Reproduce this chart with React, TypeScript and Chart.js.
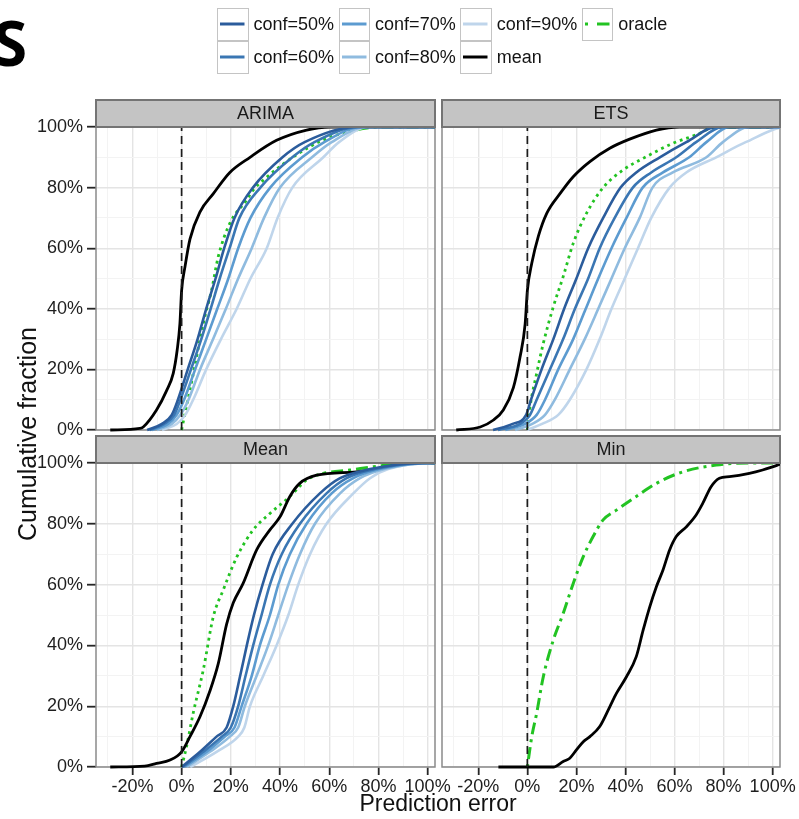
import React, { useEffect, useRef } from 'react';
import { Chart, registerables } from 'chart.js';

Chart.register(...registerables);

const FONT = "'Liberation Sans', Arial, Helvetica, sans-serif";

// Shared axis limits (prediction error in %, cumulative fraction in %)
const X_MIN = -34.8;
const X_MAX = 103;
const Y_MIN = 0;
const Y_MAX = 100;
const TICK_STEP = 10;
const LABEL_STEP = 20;

const CONF_NAMES = ['conf=50%', 'conf=60%', 'conf=70%', 'conf=80%', 'conf=90%'];
const CONF_COLORS = ['#2b5c9c', '#3a76b3', '#5c9bd0', '#8fbbdf', '#bfd5eb'];
const MEAN_COLOR = '#000000';
const ORACLE_COLOR = '#22c322';
const DOTTED = [2.8, 4];
const DOTDASH = [3, 5, 12, 5];

// ---------- ARIMA ----------
const ARIMA_LEVELS = [0, 2, 5, 10, 20, 30, 40, 50, 60, 70, 80, 90, 95, 100, 100];
const ARIMA_CONF50 = [-14, -8, -4, -1.5, 2.5, 6.5, 10, 13.8, 17.3, 21.5, 29, 41, 50, 71, 105];
const ARIMA_CONF60 = [-13, -7, -3, -0.5, 3.8, 8, 11.8, 15.5, 19.5, 23.5, 32, 45, 54, 72, 105];
const ARIMA_CONF70 = [-12, -5.5, -2, 1, 5.5, 10, 14.5, 19, 23, 28, 36, 49, 58, 73, 105];
const ARIMA_CONF80 = [-10, -4, -0.5, 2.8, 7.5, 12.8, 18, 23, 28.5, 33.5, 40, 53, 61, 75, 105];
const ARIMA_CONF90 = [-8, -2, 1.5, 4.7, 10, 16, 22.4, 28, 34.6, 39, 45, 57.6, 64, 76, 105];
const ARIMA_MEAN_X = [-29, -17, -15.6, -10.2, -6.1, -3.4, -1.8, -0.7, 0, 1.4, 3.4, 7.5, 12.9, 19.6, 27.8, 38.6, 50.8, 60.3, 105];
const ARIMA_MEAN_Y = [0, 0.5, 1, 6.6, 13, 18.7, 26.4, 35, 46, 54, 63, 72, 78, 85, 90, 95.6, 99, 100, 100];
const ARIMA_ORACLE_X = [0, 1.5, 3.4, 6.1, 8.8, 12.2, 14.9, 19.6, 26.4, 29.1, 34, 40, 47, 57, 68, 82, 105];
const ARIMA_ORACLE_Y = [0, 6, 13.2, 24.2, 35.2, 46.2, 57.2, 68.2, 75.9, 79.2, 83, 87, 91, 95.5, 98.5, 100, 100];

// ---------- ETS ----------
const ETS_LEVELS = [0, 2, 5, 10, 20, 30, 40, 50, 60, 70, 80, 85, 90, 95, 100, 100];
const ETS_CONF50 = [-14, -6, -0.5, 1.5, 5.8, 10.6, 15, 20, 24.8, 30.9, 38, 44.4, 54, 64.8, 77, 105];
const ETS_CONF60 = [-12, -3, 1.1, 3.8, 9.2, 14.6, 19.4, 24.8, 29.5, 35.6, 43, 50.5, 60.7, 68.8, 79.7, 105];
const ETS_CONF70 = [-9, -1, 3.8, 7.2, 12.6, 18.7, 23.8, 28.9, 34.3, 40.4, 47, 55.3, 66, 73, 82.4, 105];
const ETS_CONF80 = [-5, 2, 7.2, 11.2, 17.3, 23.4, 28.9, 34.3, 39.7, 45.8, 51, 59.3, 73, 79.7, 90.5, 105];
const ETS_CONF90 = [0, 6, 12.6, 17.3, 24.1, 29.5, 34.3, 39.7, 45.1, 50.5, 58, 64.8, 77, 89, 106, 108];
const ETS_MEAN_X = [-29, -19.2, -13.8, -9.8, -5.7, -3, -0.9, 0, 1.8, 4.5, 7.9, 13.3, 18.7, 25.5, 33.6, 41.7, 52.6, 62, 105];
const ETS_MEAN_Y = [0, 1, 3.3, 6.6, 14, 24, 35, 46, 55, 64, 71.5, 78, 83.6, 88.6, 93, 96, 99, 100, 100];
const ETS_ORACLE_X = [0, 1.1, 3.8, 6.5, 10.6, 14.6, 18.7, 24.1, 30.9, 39, 48.5, 59.3, 68.8, 77, 105];
const ETS_ORACLE_Y = [0, 7.7, 18.7, 28.6, 40.7, 50.6, 61.6, 71.5, 80, 85.8, 90.2, 94.6, 97.4, 100, 100];

// ---------- Mean ----------
const MEAN_LEVELS = [0, 5, 10, 13, 20, 30, 40, 50, 60, 70, 80, 90, 95, 98, 100, 100];
const MEAN_CONF50 = [0, 7.5, 14.2, 18.3, 21, 23.8, 26.5, 29.4, 32.9, 37, 45, 56.2, 64.4, 76.6, 98, 105];
const MEAN_CONF60 = [0.5, 8.8, 16.3, 20, 23, 26, 29.1, 32.5, 35.9, 40.7, 48.1, 58.9, 67.1, 78.5, 99.5, 105];
const MEAN_CONF70 = [1, 10.2, 17.6, 21.5, 24.4, 28.5, 31.8, 35.9, 39.3, 44, 50.8, 61, 69.8, 80.5, 101, 105];
const MEAN_CONF80 = [2, 11.5, 19.6, 23, 25.7, 30.5, 35.2, 39.3, 43.4, 48.1, 54.2, 64.4, 72.5, 82.5, 102, 105];
const MEAN_CONF90 = [3.5, 14.2, 23, 25.5, 27.8, 33.2, 38.6, 43.4, 47.4, 52.2, 58.9, 69.8, 76.6, 84, 104, 106];
const MEAN_MEAN_X = [-29, -15, -10.2, -4.7, 0, 3.4, 7.5, 11.5, 14.9, 18.3, 21, 25, 30.5, 35.9, 40, 44, 48, 54.9, 71, 79.3, 87.4, 92.8, 105];
const MEAN_MEAN_Y = [0, 0.3, 1.2, 2.3, 5, 10, 16.6, 25, 34, 47, 54, 60.4, 71.4, 78, 82.3, 89, 93.3, 96, 97.1, 98, 99.3, 100, 100];
const MEAN_ORACLE_X = [0, 2, 4.7, 8.8, 12.9, 16.9, 22.4, 29.1, 35.9, 44, 50.8, 57.6, 68.4, 78, 91.5, 105];
const MEAN_ORACLE_Y = [0, 6.7, 17.7, 31.9, 49.5, 58.2, 69, 78, 83.4, 89, 94.4, 96.6, 97.7, 98.8, 100, 100];

// ---------- Min ----------
const MIN_MEAN_X = [-11.8, 10.6, 14.6, 17.3, 20, 22.8, 25.5, 29.5, 33.6, 36.3, 40.4, 44.4, 47.2, 49.9, 52.6, 55.3, 58, 60.7, 64.8, 68.8, 71.5, 74.9, 78.3, 82.4, 90.5, 95.9, 102, 105];
const MIN_MEAN_Y = [0, 0, 1.8, 2.9, 5.6, 8.3, 10, 13.3, 19.8, 24.2, 29.7, 36.3, 45, 52.7, 59.3, 64.8, 71.4, 75.8, 79, 82.9, 86.7, 92.2, 95, 95.5, 96.6, 97.7, 99.3, 100];
const MIN_ORACLE_X = [0, 1.8, 3.8, 6.5, 10.6, 14.6, 18.7, 22.8, 26.8, 30.9, 36.3, 44.4, 52.6, 63.4, 77, 90.5, 105];
const MIN_ORACLE_Y = [0, 10, 17.7, 29.7, 41.8, 50.5, 60.4, 69.2, 75.8, 81.3, 84.5, 89, 93.3, 97.1, 99.3, 100, 100];

// Zero-error reference line
const REF_X = [0, 0];
const REF_Y = [0, 100];

// ---------- layout (page pixels) ----------
const PAGE_W = 799;
const PAGE_H = 819;
const COLS = [
  { left: 96, right: 435 },
  { left: 442, right: 780 },
];
const ROWS = [
  { top: 127, bottom: 430 },
  { top: 463, bottom: 767 },
];
const STRIP_H = 27;
const Y_AXIS_W = 96;
const X_AXIS_H = 45;

type Curve = {
  label: string;
  xs: number[];
  ys: number[];
  color: string;
  width: number;
  kind: 'solid' | 'oracle' | 'oracleDotdash' | 'ref';
};

type Facet = { title: string; col: number; row: number; curves: Curve[] };

const confCurves = (levels: number[], series: number[][]): Curve[] =>
  series.map((xs, i) => ({
    label: CONF_NAMES[i],
    xs,
    ys: levels,
    color: CONF_COLORS[i],
    width: 2.6,
    kind: 'solid' as const,
  }));

const refCurve: Curve = { label: 'zero', xs: REF_X, ys: REF_Y, color: '#1c1c1c', width: 1.7, kind: 'ref' };

const FACETS: Facet[] = [
  {
    title: 'ARIMA',
    col: 0,
    row: 0,
    curves: [
      refCurve,
      ...confCurves(ARIMA_LEVELS, [ARIMA_CONF50, ARIMA_CONF60, ARIMA_CONF70, ARIMA_CONF80, ARIMA_CONF90]),
      { label: 'mean', xs: ARIMA_MEAN_X, ys: ARIMA_MEAN_Y, color: MEAN_COLOR, width: 2.8, kind: 'solid' },
      { label: 'oracle', xs: ARIMA_ORACLE_X, ys: ARIMA_ORACLE_Y, color: ORACLE_COLOR, width: 2.8, kind: 'oracle' },
    ],
  },
  {
    title: 'ETS',
    col: 1,
    row: 0,
    curves: [
      refCurve,
      ...confCurves(ETS_LEVELS, [ETS_CONF50, ETS_CONF60, ETS_CONF70, ETS_CONF80, ETS_CONF90]),
      { label: 'mean', xs: ETS_MEAN_X, ys: ETS_MEAN_Y, color: MEAN_COLOR, width: 2.8, kind: 'solid' },
      { label: 'oracle', xs: ETS_ORACLE_X, ys: ETS_ORACLE_Y, color: ORACLE_COLOR, width: 2.8, kind: 'oracle' },
    ],
  },
  {
    title: 'Mean',
    col: 0,
    row: 1,
    curves: [
      refCurve,
      ...confCurves(MEAN_LEVELS, [MEAN_CONF50, MEAN_CONF60, MEAN_CONF70, MEAN_CONF80, MEAN_CONF90]),
      { label: 'mean', xs: MEAN_MEAN_X, ys: MEAN_MEAN_Y, color: MEAN_COLOR, width: 2.8, kind: 'solid' },
      { label: 'oracle', xs: MEAN_ORACLE_X, ys: MEAN_ORACLE_Y, color: ORACLE_COLOR, width: 2.8, kind: 'oracle' },
    ],
  },
  {
    title: 'Min',
    col: 1,
    row: 1,
    curves: [
      refCurve,
      { label: 'mean', xs: MIN_MEAN_X, ys: MIN_MEAN_Y, color: MEAN_COLOR, width: 2.8, kind: 'solid' },
      { label: 'oracle', xs: MIN_ORACLE_X, ys: MIN_ORACLE_Y, color: ORACLE_COLOR, width: 3, kind: 'oracleDotdash' },
    ],
  },
];

const isMajor = (v: number) => Math.round(v) % LABEL_STEP === 0;
const pctLabel = (v: number | string) => (isMajor(Number(v)) ? `${Math.round(Number(v))}%` : '');

// Grey facet strip, panel frame and facet label
const facetPlugin = {
  id: 'facet',
  beforeDatasetsDraw(chart: any) {
    const { ctx, chartArea: a } = chart;
    ctx.save();
    ctx.strokeStyle = '#8a8a8a';
    ctx.lineWidth = 1.5;
    ctx.strokeRect(a.left, a.top, a.right - a.left, a.bottom - a.top);
    ctx.restore();
  },
  afterDraw(chart: any, _args: any, opts: any) {
    const { ctx, chartArea: a } = chart;
    const w = a.right - a.left;
    ctx.save();
    ctx.fillStyle = '#c4c4c4';
    ctx.fillRect(a.left, a.top - STRIP_H, w, STRIP_H);
    ctx.strokeStyle = '#747474';
    ctx.lineWidth = 2;
    ctx.strokeRect(a.left, a.top - STRIP_H, w, STRIP_H);
    ctx.fillStyle = '#1a1a1a';
    ctx.font = `18px ${FONT}`;
    ctx.textAlign = 'center';
    ctx.textBaseline = 'middle';
    ctx.fillText(opts.title, (a.left + a.right) / 2, a.top - STRIP_H / 2 + 1);
    ctx.restore();
  },
};

function buildConfig(f: Facet): any {
  const showY = f.col === 0;
  const showX = f.row === 1;
  const col = COLS[f.col];
  const row = ROWS[f.row];
  const clip = { left: 0, right: 0, top: 2, bottom: 2 };

  const datasets = f.curves.map((c) => {
    const base: any = {
      label: c.label,
      data: c.xs.map((x, i) => ({ x, y: c.ys[i] })),
      borderColor: c.color,
      borderWidth: c.width,
      pointRadius: 0,
      fill: false,
      cubicInterpolationMode: 'monotone',
      clip,
    };
    if (c.kind === 'ref') {
      base.borderDash = [8, 5];
      base.cubicInterpolationMode = 'default';
      base.tension = 0;
    } else if (c.kind === 'oracleDotdash') {
      base.borderDash = DOTDASH;
    } else if (c.kind === 'oracle') {
      base.borderDash = DOTTED;
      base.segment = {
        borderDash: (ctx: any) => {
          const dx = Math.abs(ctx.p1.x - ctx.p0.x);
          const dy = Math.abs(ctx.p1.y - ctx.p0.y);
          return dy < dx * 0.3 ? DOTDASH : DOTTED;
        },
      };
    }
    return base;
  });

  const gridColor = (ctx: any) => (ctx.tick && isMajor(ctx.tick.value) ? '#e4e4e4' : '#f3f3f3');
  const gridWidth = (ctx: any) => (ctx.tick && isMajor(ctx.tick.value) ? 1.4 : 1);
  const tickColor = (ctx: any) => (ctx.tick && isMajor(ctx.tick.value) ? '#262626' : 'rgba(0,0,0,0)');

  return {
    type: 'line',
    data: { datasets },
    plugins: [facetPlugin],
    options: {
      animation: false,
      responsive: false,
      devicePixelRatio: 1,
      events: [],
      layout: {
        padding: {
          left: showY ? col.left - Y_AXIS_W : col.left,
          right: PAGE_W - col.right,
          top: row.top,
          bottom: PAGE_H - row.bottom - (showX ? X_AXIS_H : 0),
        },
      },
      plugins: {
        legend: { display: false },
        tooltip: { enabled: false },
        facet: { title: f.title },
      },
      scales: {
        x: {
          type: 'linear',
          position: 'bottom',
          min: X_MIN,
          max: X_MAX,
          afterFit: (s: any) => {
            s.height = showX ? X_AXIS_H : 0;
            s.paddingLeft = 0;
            s.paddingRight = 0;
          },
          border: { display: false },
          grid: {
            color: gridColor,
            lineWidth: gridWidth,
            drawTicks: showX,
            tickLength: 8,
            tickColor,
            tickWidth: 1.8,
          },
          ticks: {
            display: showX,
            stepSize: TICK_STEP,
            includeBounds: false,
            autoSkip: false,
            maxRotation: 0,
            minRotation: 0,
            padding: 1,
            color: '#1e1e1e',
            font: { family: FONT, size: 18 },
            callback: pctLabel,
          },
        },
        y: {
          type: 'linear',
          position: 'left',
          min: Y_MIN,
          max: Y_MAX,
          afterFit: (s: any) => {
            s.width = showY ? Y_AXIS_W : 0;
            s.paddingTop = 0;
            s.paddingBottom = 0;
          },
          border: { display: false },
          grid: {
            color: gridColor,
            lineWidth: gridWidth,
            drawTicks: showY,
            tickLength: 9,
            tickColor,
            tickWidth: 1.8,
          },
          ticks: {
            display: showY,
            stepSize: TICK_STEP,
            includeBounds: false,
            autoSkip: false,
            padding: 4,
            color: '#1e1e1e',
            font: { family: FONT, size: 18 },
            callback: pctLabel,
          },
        },
      },
    },
  };
}

type LegendItem = { label: string; color: string; dash?: string; col: number; row: number };

const LEGEND_ITEMS: LegendItem[] = [
  { label: CONF_NAMES[0], color: CONF_COLORS[0], col: 0, row: 0 },
  { label: CONF_NAMES[1], color: CONF_COLORS[1], col: 0, row: 1 },
  { label: CONF_NAMES[2], color: CONF_COLORS[2], col: 1, row: 0 },
  { label: CONF_NAMES[3], color: CONF_COLORS[3], col: 1, row: 1 },
  { label: CONF_NAMES[4], color: CONF_COLORS[4], col: 2, row: 0 },
  { label: 'mean', color: MEAN_COLOR, col: 2, row: 1 },
  { label: 'oracle', color: ORACLE_COLOR, dash: '3 9 13 40', col: 3, row: 0 },
];

const LEGEND_LEFT = 217;
const LEGEND_COL_W = 121.6;
const LEGEND_TOP = 7.5;
const KEY_W = 31.5;
const KEY_H = 33;

function LegendKey({ item }: { item: LegendItem }) {
  const left = LEGEND_LEFT + item.col * LEGEND_COL_W;
  const top = LEGEND_TOP + item.row * KEY_H;
  return (
    <>
      <div
        style={{
          position: 'absolute',
          left,
          top,
          width: KEY_W,
          height: KEY_H,
          boxSizing: 'border-box',
          border: '1.5px solid #c4c4c4',
          background: '#fff',
        }}
      >
        <svg width={KEY_W - 3} height={KEY_H - 3} style={{ display: 'block' }}>
          <line
            x1={2}
            x2={KEY_W - 5}
            y1={(KEY_H - 3) / 2}
            y2={(KEY_H - 3) / 2}
            stroke={item.color}
            strokeWidth={3}
            strokeDasharray={item.dash}
          />
        </svg>
      </div>
      <div
        style={{
          position: 'absolute',
          left: left + KEY_W + 5,
          top,
          height: KEY_H,
          lineHeight: `${KEY_H}px`,
          fontSize: 18,
          color: '#141414',
          whiteSpace: 'nowrap',
        }}
      >
        {item.label}
      </div>
    </>
  );
}

export default function App() {
  const canvases = useRef<(HTMLCanvasElement | null)[]>([]);

  useEffect(() => {
    const charts = FACETS.map((f, i) => new Chart(canvases.current[i] as HTMLCanvasElement, buildConfig(f)));
    return () => charts.forEach((c) => c.destroy());
  }, []);

  return (
    <div
      style={{
        position: 'fixed',
        left: 0,
        top: 0,
        width: PAGE_W,
        height: PAGE_H,
        background: '#ffffff',
        overflow: 'hidden',
        fontFamily: FONT,
      }}
    >
      {FACETS.map((f, i) => (
        <canvas
          key={f.title}
          ref={(el) => {
            canvases.current[i] = el;
          }}
          width={PAGE_W}
          height={PAGE_H}
          style={{ position: 'absolute', left: 0, top: 0, width: PAGE_W, height: PAGE_H }}
        />
      ))}

      <div
        style={{
          position: 'absolute',
          left: -7,
          top: 11,
          fontFamily: "'Open Sans', 'DejaVu Sans', sans-serif",
          fontWeight: 700,
          fontSize: 62,
          lineHeight: '62px',
          color: '#000',
        }}
      >
        S
      </div>

      {LEGEND_ITEMS.map((item) => (
        <LegendKey key={item.label} item={item} />
      ))}

      <div
        style={{
          position: 'absolute',
          left: 27 - 200,
          top: 434 - 15,
          width: 400,
          height: 30,
          lineHeight: '30px',
          textAlign: 'center',
          fontSize: 25,
          color: '#111',
          transform: 'rotate(-90deg)',
        }}
      >
        Cumulative fraction
      </div>

      <div
        style={{
          position: 'absolute',
          left: 438 - 200,
          top: 803 - 15,
          width: 400,
          height: 30,
          lineHeight: '30px',
          textAlign: 'center',
          fontSize: 23,
          color: '#111',
        }}
      >
        Prediction error
      </div>
    </div>
  );
}
